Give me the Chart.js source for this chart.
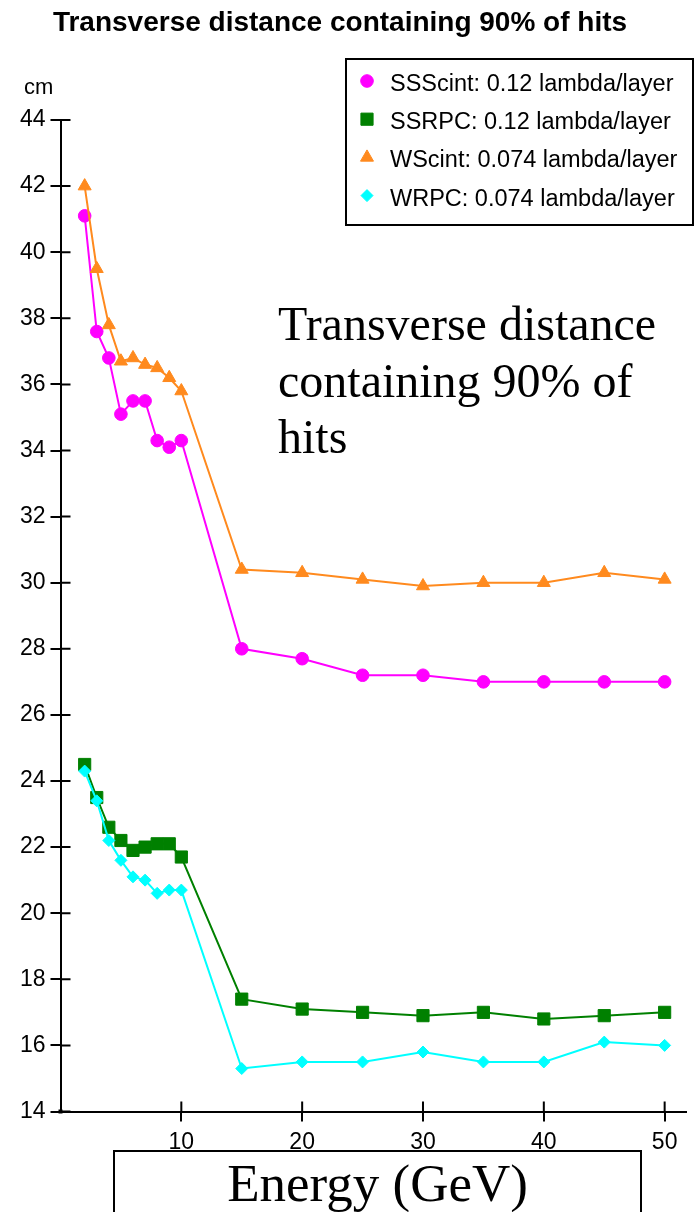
<!DOCTYPE html>
<html>
<head>
<meta charset="utf-8">
<script src="https://cdn.jsdelivr.net/npm/chart.js@4.4.0/dist/chart.umd.min.js"></script>
<style>
  html, body { margin: 0; padding: 0; background: #fff; }
  #wrap { position: relative; width: 696px; height: 1212px; overflow: hidden; }
  #chart { position: absolute; left: 0; top: 0; }
  .title { position: absolute; left: 0; width: 680px; top: 6px; line-height: 30px; text-align: center;
           font: bold 28px 'Liberation Sans', Arial, sans-serif; color: #000; }
  .unit { position: absolute; left: 24px; top: 74px; line-height: 26px; font: 22px 'Liberation Sans', Arial, sans-serif; }
  .note { position: absolute; left: 278px; top: 296px; font: 48px 'Liberation Serif', 'Times New Roman', serif;
          line-height: 56.5px; white-space: nowrap; }
  .xbox { position: absolute; left: 113px; top: 1150px; width: 525px; height: 100px;
          border: 2px solid #000; border-bottom: none; }
  .xtitle { position: absolute; left: 0; width: 100%; top: 1px; line-height: 60px; text-align: center;
            font: 53px 'Liberation Serif', 'Times New Roman', serif; }
</style>
</head>
<body>
<div id="wrap">
  <canvas id="chart" width="696" height="1212"></canvas>
  <div class="title">Transverse distance containing 90% of hits</div>
  <div class="unit">cm</div>
  <div class="note">Transverse distance<br>containing 90% of<br>hits</div>
  <div class="xbox"><div class="xtitle">Energy (GeV)</div></div>
</div>
<script>
// energy points (GeV) and the four curves
const ENERGY  = [2, 3, 4, 5, 6, 7, 8, 9, 10, 15, 20, 25, 30, 35, 40, 45, 50];
const SSSCINT = [41.1, 37.6, 36.8, 35.1, 35.5, 35.5, 34.3, 34.1, 34.3, 28.0, 27.7, 27.2, 27.2, 27.0, 27.0, 27.0, 27.0];
const SSRPC   = [24.5, 23.5, 22.6, 22.2, 21.9, 22.0, 22.1, 22.1, 21.7, 17.4, 17.1, 17.0, 16.9, 17.0, 16.8, 16.9, 17.0];
const WSCINT  = [42.0, 39.5, 37.8, 36.7, 36.8, 36.6, 36.5, 36.2, 35.8, 30.4, 30.3, 30.1, 29.9, 30.0, 30.0, 30.3, 30.1];
const WRPC    = [24.3, 23.4, 22.2, 21.6, 21.1, 21.0, 20.6, 20.7, 20.7, 15.3, 15.5, 15.5, 15.8, 15.5, 15.5, 16.1, 16.0];
const SERIES_LABELS = ['SSScint: 0.12 lambda/layer', 'SSRPC: 0.12 lambda/layer',
                       'WScint: 0.074 lambda/layer', 'WRPC: 0.074 lambda/layer'];
const X_TICKS = [10, 20, 30, 40, 50];
const Y_TICKS = [14, 16, 18, 20, 22, 24, 26, 28, 30, 32, 34, 36, 38, 40, 42, 44];

const TICK_FONT = { family: "'Liberation Sans', Arial, sans-serif", size: 23 };

function series(label, values, color, style, radius, order) {
  return {
    label, order,
    data: ENERGY.map((e, i) => ({ x: e, y: values[i] })),
    borderColor: color, backgroundColor: color,
    pointBackgroundColor: color, pointBorderColor: color,
    borderWidth: 2, pointStyle: style, pointRadius: radius, pointHoverRadius: radius,
    pointBorderWidth: 1, tension: 0
  };
}

// tick marks cross the axes, plus the legend box in the upper right
const axisExtras = {
  id: 'axisExtras',
  afterDraw(chart) {
    const ctx = chart.ctx, xs = chart.scales.x, ys = chart.scales.y;
    const left = ys.right, bottom = xs.top;
    ctx.save();
    ctx.strokeStyle = '#000';
    ctx.lineWidth = 2;
    ctx.beginPath();
    ys.ticks.forEach(t => { const py = ys.getPixelForValue(t.value); ctx.moveTo(left, py); ctx.lineTo(left + 10, py); });
    xs.ticks.forEach(t => { const px = xs.getPixelForValue(t.value); ctx.moveTo(px, bottom); ctx.lineTo(px, bottom - 10); });
    ctx.stroke();
    ctx.fillStyle = '#000';
    ctx.fillRect(xs.getPixelForValue(0) - 2, ys.getPixelForValue(14) - 2, 4, 4);

    // legend
    ctx.lineWidth = 2;
    ctx.strokeRect(346, 59, 347, 166);
    ctx.font = "23.5px 'Liberation Sans', Arial, sans-serif";
    ctx.textBaseline = 'alphabetic';
    ctx.textAlign = 'left';
    chart.data.datasets.forEach((ds, i) => {
      const base = 91 + i * 38.2;
      ctx.fillStyle = ds.borderColor;
      ctx.strokeStyle = ds.borderColor;
      ctx.lineWidth = 1;
      Chart.helpers.drawPoint(ctx, { pointStyle: ds.pointStyle, radius: ds.pointRadius, rotation: 0, borderWidth: 1 }, 367, base - 10);
      ctx.fillStyle = '#000';
      ctx.fillText(ds.label, 390, base);
    });
    ctx.restore();
  }
};

new Chart(document.getElementById('chart'), {
  type: 'line',
  data: {
    datasets: [
      series(SERIES_LABELS[0], SSSCINT, '#FF00FF', 'circle', 6.3, 4),
      series(SERIES_LABELS[1], SSRPC, '#008000', 'rect', 8.6, 3),
      series(SERIES_LABELS[2], WSCINT, '#FF8A1E', 'triangle', 7.5, 2),
      series(SERIES_LABELS[3], WRPC, '#00FFFF', 'rectRot', 6, 1)
    ]
  },
  options: {
    responsive: false,
    animation: false,
    events: [],
    layout: { padding: { top: 120, right: 9, left: 0, bottom: 0 } },
    plugins: { legend: { display: false }, tooltip: { enabled: false }, title: { display: false } },
    scales: {
      x: {
        type: 'linear', min: 0, max: 51.8,
        afterBuildTicks: s => { s.ticks = X_TICKS.map(v => ({ value: v })); },
        afterFit: s => { s.height = 100.5; },
        border: { color: '#000', width: 2 },
        grid: { drawOnChartArea: false, drawTicks: true, tickLength: 10, color: '#000', lineWidth: 2 },
        ticks: { font: TICK_FONT, color: '#000', padding: 7, maxRotation: 0 }
      },
      y: {
        type: 'linear', min: 14, max: 44,
        afterBuildTicks: s => { s.ticks = Y_TICKS.map(v => ({ value: v })); },
        afterFit: s => { s.width = 60.5; },
        border: { color: '#000', width: 2 },
        grid: { drawOnChartArea: false, drawTicks: true, tickLength: 10, color: '#000', lineWidth: 2 },
        ticks: { font: TICK_FONT, color: '#000', padding: 5 }
      }
    }
  },
  plugins: [axisExtras]
});
</script>
</body>
</html>
